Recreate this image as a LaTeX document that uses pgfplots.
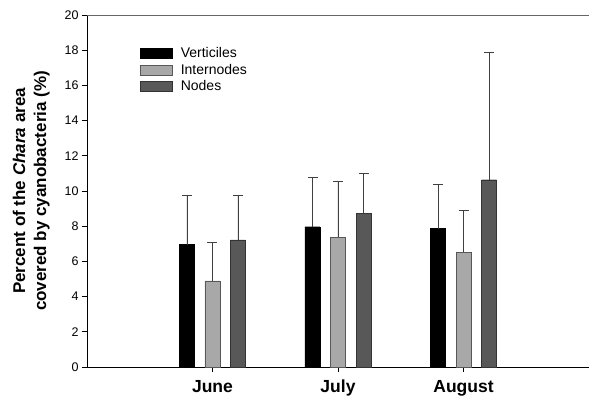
\documentclass[border=0pt]{standalone}
\usepackage{pgfplots}
\pgfplotsset{compat=1.18}
\usepackage{fontspec}
\setmainfont{Liberation Sans}
\definecolor{lgray}{HTML}{A8A8A8}
\definecolor{dgray}{HTML}{585858}
\begin{document}
\begin{tikzpicture}[x=1pt,y=1pt]
\path[use as bounding box] (-87,-35) rectangle (502,367);
\begin{axis}[
  at={(0,0)}, anchor=south west,
  scale only axis, width=502pt, height=352pt,
  xmin=0, xmax=4, ymin=0, ymax=20,
  ybar=10.5pt, bar width=15pt,
  xtick={1,2,3}, xticklabels={June,July,August},
  xticklabel style={font=\fontsize{17.5}{19}\selectfont\bfseries, yshift=-4pt, text height=13pt, text depth=4pt},
  ytick={0,2,...,20},
  yticklabel style={font=\fontsize{12.5}{14}\selectfont},
  /pgf/number format/assume math mode=true,
  axis x line*=bottom, axis y line*=left,
  axis line style={black, line width=0.9pt},
  tick style={black, line width=0.7pt},
  tick align=outside, major tick length=5pt,
  ylabel={Percent of the \textit{Chara} area\\covered by cyanobacteria (\%)},
  ylabel style={align=center, font=\fontsize{17}{21}\selectfont\bfseries, yshift=8pt},
  legend cell align=left,
  legend style={draw=none, fill=none, at={(0.10,0.92)}, anchor=north west,
    font=\fontsize{14}{16}\selectfont, row sep=1pt},
  legend image code/.code={\draw[#1] (0pt,-5pt) rectangle (32pt,5pt);},
  error bars/error bar style={black!75, line width=0.8pt},
  error bars/error mark options={rotate=90, mark size=5pt, line width=0.8pt, black!75},
]
\addplot[fill=black, draw=black,
  error bars/.cd, y dir=plus, y explicit]
  coordinates {(1,6.95) +- (0,2.80) (2,7.97) +- (0,2.79) (3,7.86) +- (0,2.54)};
\addlegendentry{\hspace*{6pt}Verticiles}
\addplot[fill=lgray, draw=dgray,
  error bars/.cd, y dir=plus, y explicit]
  coordinates {(1,4.90) +- (0,2.16) (2,7.37) +- (0,3.20) (3,6.52) +- (0,2.40)};
\addlegendentry{\hspace*{6pt}Internodes}
\addplot[fill=dgray, draw=black!80,
  error bars/.cd, y dir=plus, y explicit]
  coordinates {(1,7.23) +- (0,2.54) (2,8.75) +- (0,2.25) (3,10.64) +- (0,7.26)};
\addlegendentry{\hspace*{6pt}Nodes}
\draw[gray!80!black, line width=0.9pt] (rel axis cs:0,1) -- (rel axis cs:1,1);
\end{axis}
\end{tikzpicture}
\end{document}
